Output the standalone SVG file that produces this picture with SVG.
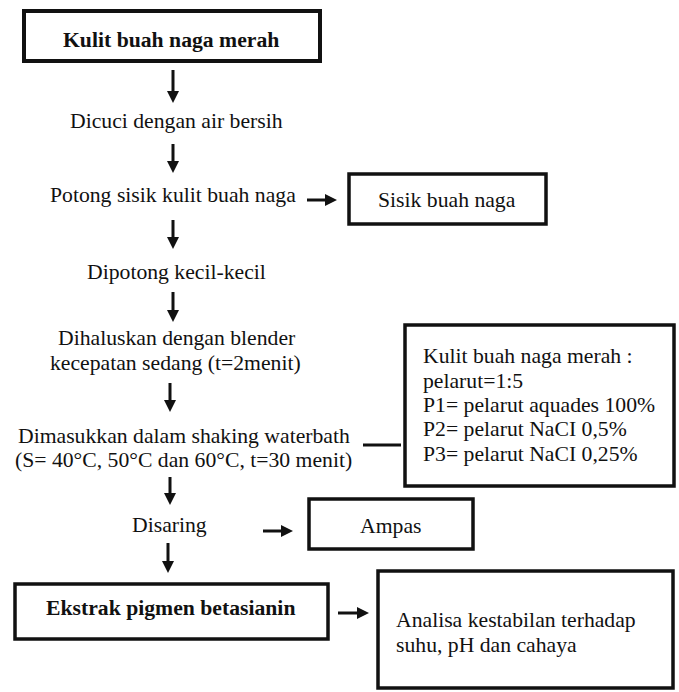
<svg xmlns="http://www.w3.org/2000/svg" width="679" height="692" viewBox="0 0 679 692">
<style>
text{font-family:"Liberation Serif","Times New Roman",serif;font-size:21.7px;fill:#111}
.b{font-weight:bold}
.box{fill:#fff;stroke:#111;stroke-width:3.5}
.conn{stroke:#111;stroke-width:3;fill:none}
</style>
<defs>
<marker id="ah" markerUnits="userSpaceOnUse" markerWidth="12" markerHeight="12" viewBox="0 0 12 12" refX="0" refY="6" orient="auto">
<path d="M0,0 L12,6 L0,12 z" fill="#111"/>
</marker>
</defs>
<rect width="679" height="692" fill="#fff"/>
<g id="connectors">
<line class="conn" x1="173" y1="70" x2="173" y2="91" marker-end="url(#ah)"/>
<line class="conn" x1="173" y1="144" x2="173" y2="161" marker-end="url(#ah)"/>
<line class="conn" x1="173" y1="220" x2="173" y2="237" marker-end="url(#ah)"/>
<line class="conn" x1="173" y1="292" x2="173" y2="310" marker-end="url(#ah)"/>
<line class="conn" x1="170" y1="383" x2="170" y2="400" marker-end="url(#ah)"/>
<line class="conn" x1="170" y1="477" x2="170" y2="493" marker-end="url(#ah)"/>
<line class="conn" x1="168" y1="543" x2="168" y2="561" marker-end="url(#ah)"/>
<line class="conn" x1="307" y1="200" x2="325" y2="200" marker-end="url(#ah)"/>
<line class="conn" x1="263" y1="531" x2="281" y2="531" marker-end="url(#ah)"/>
<line class="conn" x1="338" y1="613" x2="357" y2="613" marker-end="url(#ah)"/>
<line class="conn" x1="363" y1="445" x2="401" y2="445"/>
</g>
<g id="n-kulit">
<rect class="box" x="24" y="11" width="296" height="50" style="stroke-width:4"/>
<text class="b" x="63" y="47">Kulit buah naga merah</text>
</g>
<g id="n-dicuci"><text x="70" y="128">Dicuci dengan air bersih</text></g>
<g id="n-potong"><text x="50" y="202">Potong sisik kulit buah naga</text></g>
<g id="n-sisik">
<rect class="box" x="349" y="174" width="197" height="50"/>
<text x="378" y="207">Sisik buah naga</text>
</g>
<g id="n-dipotong"><text x="87" y="279">Dipotong kecil-kecil</text></g>
<g id="n-dihaluskan">
<text x="58" y="345">Dihaluskan dengan blender</text>
<text x="50" y="370">kecepatan sedang (t=2menit)</text>
</g>
<g id="n-shaking">
<text x="18" y="443">Dimasukkan dalam shaking waterbath</text>
<text x="15" y="467">(S= 40°C, 50°C dan 60°C, t=30 menit)</text>
</g>
<g id="n-pelarut">
<rect class="box" x="405" y="325" width="269" height="161"/>
<text x="423" y="363">Kulit buah naga merah :</text>
<text x="423" y="388">pelarut=1:5</text>
<text x="423" y="412">P1= pelarut aquades 100%</text>
<text x="423" y="436">P2= pelarut NaCI 0,5%</text>
<text x="423" y="461">P3= pelarut NaCI 0,25%</text>
</g>
<g id="n-disaring"><text x="132" y="532">Disaring</text></g>
<g id="n-ampas">
<rect class="box" x="309" y="499" width="164" height="50"/>
<text x="360" y="533">Ampas</text>
</g>
<g id="n-ekstrak">
<rect class="box" x="15" y="584" width="313" height="55"/>
<text class="b" x="46" y="615">Ekstrak pigmen betasianin</text>
</g>
<g id="n-analisa">
<rect class="box" x="378" y="571" width="295" height="117"/>
<text x="396" y="627">Analisa kestabilan terhadap</text>
<text x="396" y="652">suhu, pH dan cahaya</text>
</g>
</svg>
